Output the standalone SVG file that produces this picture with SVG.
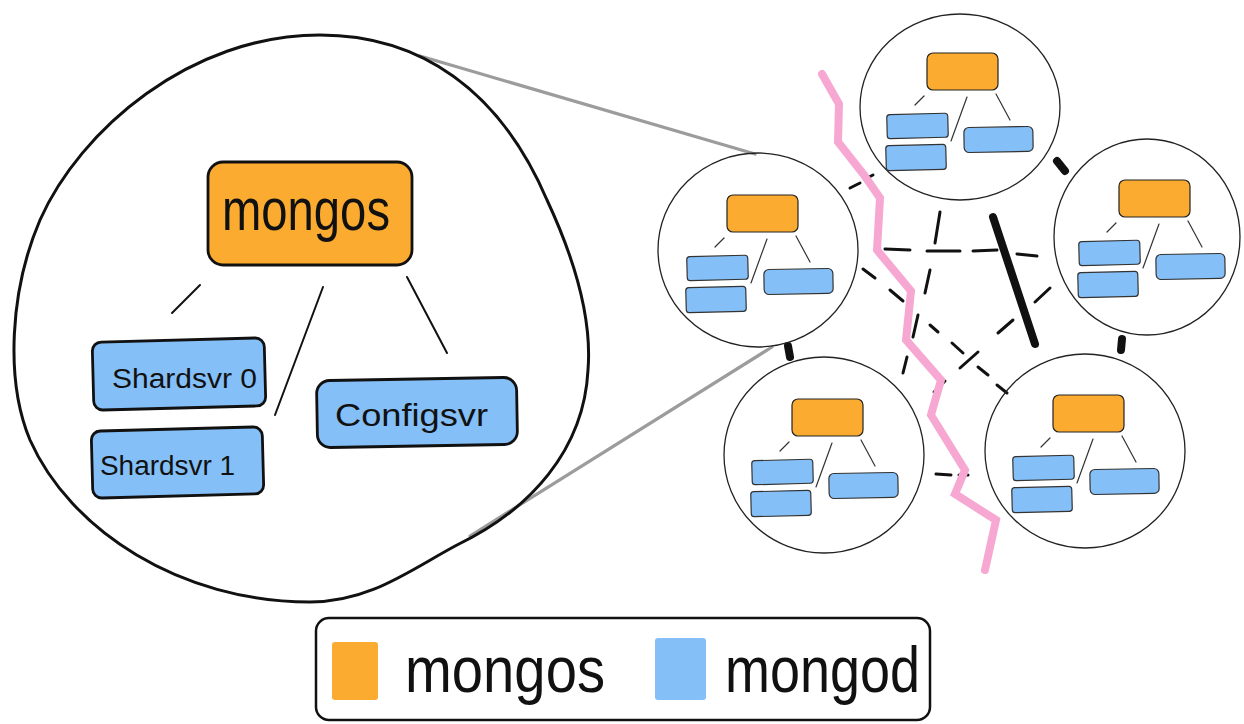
<svg xmlns="http://www.w3.org/2000/svg" xmlns:xlink="http://www.w3.org/1999/xlink" width="1244" height="724" viewBox="0 0 1244 724">
<style>
.or{fill:#FBAC30;stroke:#222;stroke-width:1.2}
.bl{fill:#84BFF7;stroke:#333;stroke-width:1.2}
.tl{stroke:#333;stroke-width:1.2;fill:none;stroke-linecap:round}
.sc{fill:none;stroke:#222;stroke-width:1.3}
.bigbox-o{fill:#FBAC30;stroke:#111;stroke-width:2.8}
.bigbox-b{fill:#84BFF7;stroke:#111;stroke-width:2.8}
.bigline{stroke:#111;stroke-width:2;fill:none;stroke-linecap:round}
.txt{font-family:"Liberation Sans",Arial,sans-serif;fill:#111}
.gray{stroke:#9c9c9c;stroke-width:3.2;fill:none;stroke-linecap:round}
.dash{stroke:#111;stroke-width:3;fill:none;stroke-linecap:round}
.thick{stroke:#111;stroke-width:8;fill:none;stroke-linecap:round}
.pink{stroke:#F7A8D2;stroke-width:8;fill:none;stroke-linejoin:miter;stroke-linecap:round}
</style>
<defs>
<g id="tree">
<rect class="or" x="0" y="0" width="71" height="37" rx="6"/>
<line class="tl" x1="-3" y1="43" x2="-12" y2="52"/>
<line class="tl" x1="40" y1="44" x2="24" y2="88"/>
<line class="tl" x1="69" y1="41" x2="83" y2="67"/>
<rect class="bl" x="-40" y="61" width="61" height="24" rx="3" transform="rotate(-1.5 -10 73)"/>
<rect class="bl" x="-41" y="92" width="60" height="25" rx="3" transform="rotate(-1.5 -11 104)"/>
<rect class="bl" x="37" y="74" width="69" height="25" rx="5" transform="rotate(-1 71 86)"/>
</g>
</defs>
<rect x="0" y="0" width="1244" height="724" fill="#ffffff"/>

<g id="connectors">
<line class="gray" x1="420" y1="56" x2="755" y2="154"/>
<line class="gray" x1="470" y1="536" x2="772" y2="347"/>
<!-- A-B dashed -->
<line class="dash" x1="850" y1="188" x2="860" y2="183"/>
<line class="dash" x1="867" y1="178" x2="873" y2="175"/>
<!-- A-C dashed -->
<line class="dash" x1="885" y1="249" x2="910" y2="250"/>
<line class="dash" x1="927" y1="251" x2="960" y2="251"/>
<line class="dash" x1="973" y1="251" x2="997" y2="250"/>
<line class="dash" x1="1017" y1="254" x2="1037" y2="256"/>
<!-- A-E dashed -->
<line class="dash" x1="863" y1="269" x2="875" y2="278"/>
<line class="dash" x1="890" y1="290" x2="903" y2="301"/>
<line class="dash" x1="930" y1="325" x2="938" y2="332"/>
<line class="dash" x1="952" y1="343" x2="963" y2="353"/>
<line class="dash" x1="978" y1="367" x2="988" y2="375"/>
<line class="dash" x1="997" y1="385" x2="1007" y2="393"/>
<!-- C-D dashed -->
<line class="dash" x1="1050" y1="288" x2="1035" y2="302"/>
<line class="dash" x1="1013" y1="320" x2="998" y2="333"/>
<line class="dash" x1="978" y1="352" x2="960" y2="368"/>
<line class="dash" x1="945" y1="381" x2="934" y2="392"/>
<!-- B-D dashed -->
<line class="dash" x1="940" y1="212" x2="935" y2="243"/>
<line class="dash" x1="930" y1="270" x2="925" y2="293"/>
<line class="dash" x1="918" y1="315" x2="913" y2="337"/>
<line class="dash" x1="907" y1="357" x2="903" y2="373"/>
<!-- D-E dashed -->
<line class="dash" x1="936" y1="474" x2="951" y2="475"/>
<line class="dash" x1="959" y1="475" x2="968" y2="475"/>
<!-- thick marks -->
<line class="thick" x1="788" y1="346" x2="790" y2="357"/>
<line class="thick" x1="1057" y1="161" x2="1065" y2="171"/>
<line class="thick" x1="1122" y1="339" x2="1121" y2="350"/>
<line class="thick" x1="993" y1="217" x2="1035" y2="344" stroke-width="7"/>
</g>

<polyline id="partition" class="pink" points="822,74 839,104 838,142 864,175 880,198 877,250 911,291 906,340 941,380 931,415 965,470 955,494 996,520 985,570"/>

<g id="node-zoom">
<path d="M 320 35 C 420 35 500 90 547 200 C 575 260 592 320 588 370 C 584 450 530 510 457 545 C 410 570 370 602 310 602 C 180 602 70 530 30 440 C 5 380 10 290 40 220 C 80 130 190 35 320 35 Z" fill="none" stroke="#111" stroke-width="3"/>
<rect class="bigbox-o" x="208" y="162" width="204" height="103" rx="15"/>
<text class="txt" x="222" y="230" font-size="60" textLength="168" lengthAdjust="spacingAndGlyphs">mongos</text>
<line class="bigline" x1="200" y1="285" x2="172" y2="313"/>
<line class="bigline" x1="323" y1="287" x2="275" y2="415"/>
<line class="bigline" x1="407" y1="277" x2="447" y2="353"/>
<rect class="bigbox-b" x="93" y="340" width="172" height="68" rx="9" transform="rotate(-1.5 179 374)"/>
<text class="txt" x="112" y="388" font-size="27" textLength="145" lengthAdjust="spacingAndGlyphs">Shardsvr 0</text>
<rect class="bigbox-b" x="92" y="429" width="171" height="67" rx="9" transform="rotate(-1.5 177 462)"/>
<text class="txt" x="100" y="475" font-size="27" textLength="135" lengthAdjust="spacingAndGlyphs">Shardsvr 1</text>
<rect class="bigbox-b" x="317" y="379" width="200" height="67" rx="13" transform="rotate(-1 417 412)"/>
<text class="txt" x="335" y="426" font-size="31" textLength="153" lengthAdjust="spacingAndGlyphs">Configsvr</text>
</g>

<g id="node-a">
<ellipse class="sc" cx="758" cy="250" rx="100" ry="97"/>
<use xlink:href="#tree" x="727" y="195"/>
</g>
<g id="node-b">
<ellipse class="sc" cx="960" cy="107" rx="100" ry="93"/>
<use xlink:href="#tree" x="927" y="53"/>
</g>
<g id="node-c">
<ellipse class="sc" cx="1147" cy="237" rx="93" ry="98"/>
<use xlink:href="#tree" x="1119" y="180"/>
</g>
<g id="node-d">
<ellipse class="sc" cx="824" cy="455" rx="100" ry="98"/>
<use xlink:href="#tree" x="792" y="399"/>
</g>
<g id="node-e">
<ellipse class="sc" cx="1085" cy="451" rx="100" ry="97"/>
<use xlink:href="#tree" x="1053" y="395"/>
</g>

<g id="legend">
<rect x="316" y="618" width="614" height="102" rx="13" fill="#fff" stroke="#111" stroke-width="2.5"/>
<rect x="332" y="642" width="46" height="58" rx="3" fill="#FBAC30"/>
<text class="txt" x="405" y="692" font-size="64" textLength="200" lengthAdjust="spacingAndGlyphs">mongos</text>
<rect x="655" y="638" width="51" height="62" rx="3" fill="#84BFF7"/>
<text class="txt" x="725" y="692" font-size="64" textLength="195" lengthAdjust="spacingAndGlyphs">mongod</text>
</g>
</svg>
